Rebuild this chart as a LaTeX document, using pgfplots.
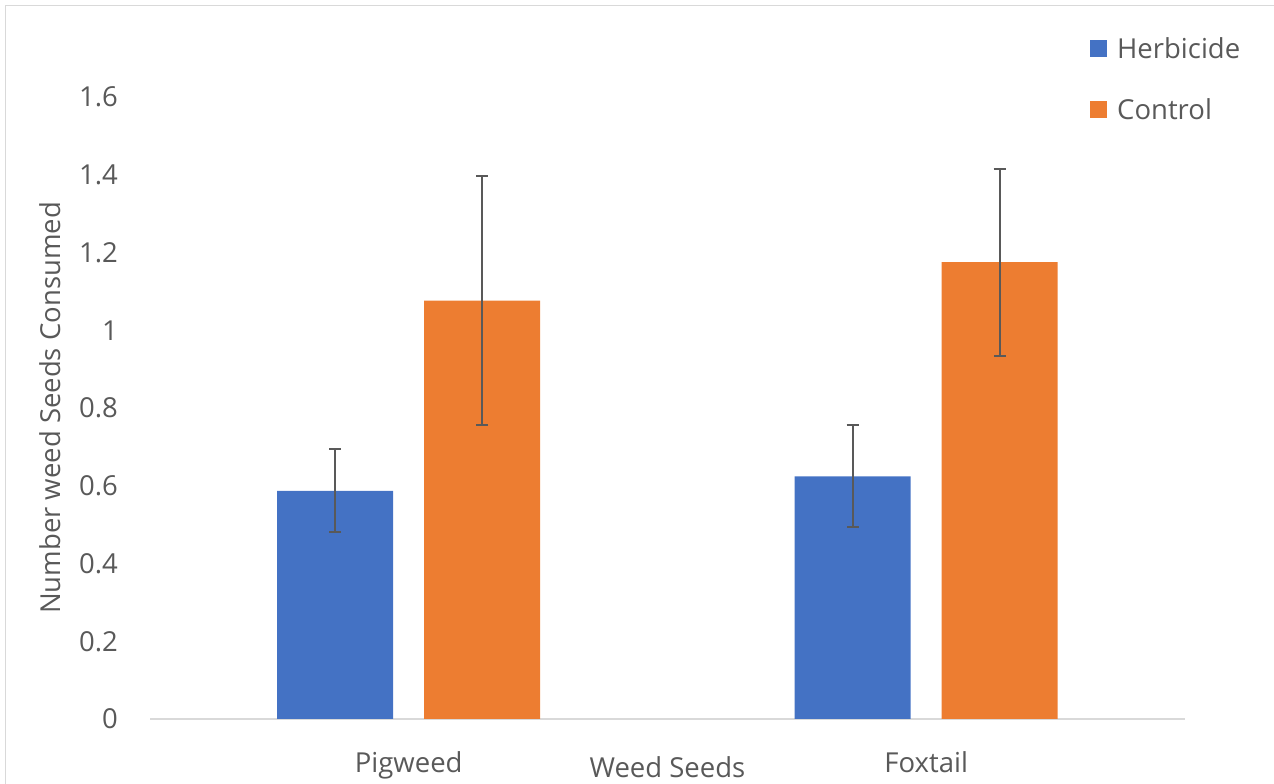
\documentclass[border=0pt]{standalone}
\usepackage{fontspec}
\setmainfont{Open Sans}
\usepackage{pgfplots}
\pgfplotsset{compat=1.18}
\definecolor{herb}{HTML}{4472C4}
\definecolor{ctrl}{HTML}{ED7D31}
\definecolor{txt}{HTML}{595959}
\definecolor{gridc}{HTML}{D9D9D9}
\begin{document}
\begin{tikzpicture}
\useasboundingbox (0,0) rectangle (1274pt,784pt);
\draw[color=gridc, line width=1.5pt] (5.5pt,-20pt) -- (5.5pt,778.5pt) -- (1300pt,778.5pt);
\begin{axis}[
  at={(150pt,65pt)}, anchor=south west,
  scale only axis, width=1035pt, height=622pt,
  xmin=-0.5, xmax=1.5, ymin=0, ymax=1.6,
  ybar=31pt, bar width=116pt,
  font=\fontsize{27.5}{33}\selectfont,
  /pgf/number format/assume math mode=true,
  axis x line*=bottom, axis y line*=left,
  x axis line style={draw=gridc, line width=2pt, -},
  y axis line style={draw=none},
  major tick length=0pt,
  xtick={0,1}, xticklabels={Pigweed,Foxtail},
  ytick={0,0.2,0.4,0.6,0.8,1,1.2,1.4,1.6},
  yticklabels={0,0.2,0.4,0.6,0.8,1,1.2,1.4,1.6},
  yticklabel style={anchor=east, inner sep=0pt, xshift=-32pt, text=txt},
  xticklabel style={anchor=base, inner sep=0pt, yshift=-53pt, text=txt},
  xlabel={Weed Seeds},
  xlabel style={at={(axis description cs:0.5,0)}, anchor=base, inner sep=0pt, yshift=-59pt, text=txt},
  ylabel={Number weed Seeds Consumed},
  ylabel style={at={(axis description cs:0,0.5)}, anchor=base, inner sep=0pt, yshift=89pt, text=txt},
  legend style={at={(axis description cs:0.9082,1.0949)}, anchor=north west,
    draw=none, fill=none, inner sep=0pt, column sep=10pt, row sep=41pt,
    nodes={inner sep=0pt, text depth=0pt, text height=20pt, text=txt}},
  legend cell align=left,
  legend image code/.code={\fill[#1] (0pt,-9pt) rectangle (17pt,8pt);},
  error bars/error bar style={color=txt, line width=2pt},
  error bars/error mark options={color=txt, line width=2pt, mark size=6pt, rotate=90},
  clip=false,
]
\addplot[fill=herb, draw=none, error bars/.cd, y dir=both, y explicit]
  coordinates {(0,0.587) +- (0,0.107) (1,0.624) +- (0,0.131)};
\addplot[fill=ctrl, draw=none, error bars/.cd, y dir=both, y explicit]
  coordinates {(0,1.076) +- (0,0.321) (1,1.175) +- (0,0.241)};
\legend{Herbicide,Control}
\end{axis}
\end{tikzpicture}
\end{document}
